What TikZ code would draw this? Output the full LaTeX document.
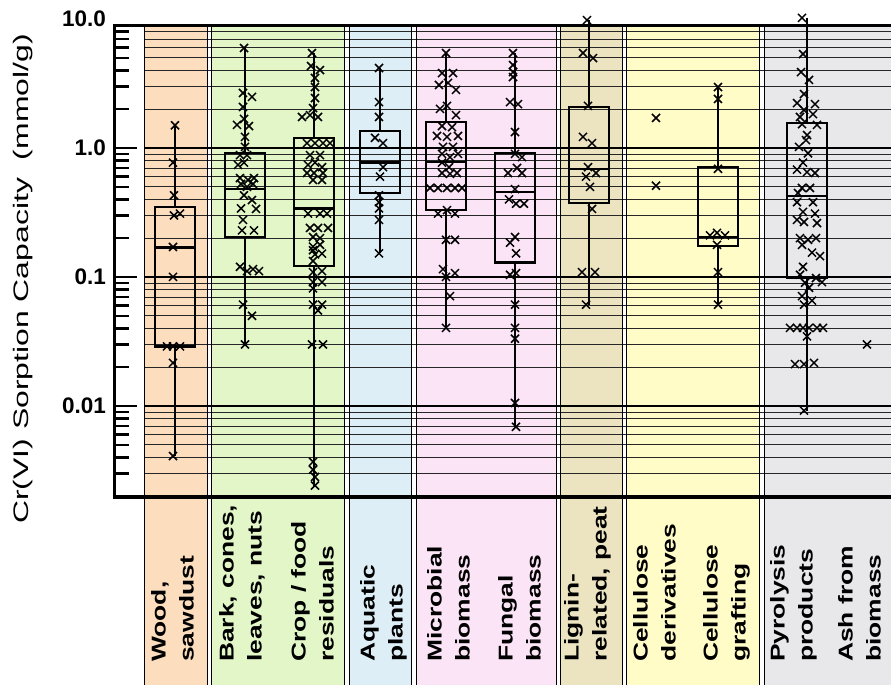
\documentclass[tikz,border=0pt]{standalone}
\usepackage{fontspec}
\setmainfont{Liberation Sans}

\definecolor{woodc}{RGB}{252,222,190}
\definecolor{barkc}{RGB}{226,246,200}
\definecolor{aquac}{RGB}{221,238,246}
\definecolor{micrc}{RGB}{250,228,246}
\definecolor{lignc}{RGB}{236,227,192}
\definecolor{cellc}{RGB}{255,252,200}
\definecolor{pyroc}{RGB}{232,232,235}

% box: x, min, q1, median, q3, max
\newcommand{\bplot}[6]{%
  \draw[bx] (#1,{log10(#6)}) -- (#1,{log10(#5)});
  \draw[bx] (#1,{log10(#3)}) -- (#1,{log10(#2)});
  \draw[bx] (#1-20,{log10(#3)}) rectangle (#1+20,{log10(#5)});
  \draw[bx] (#1-20,{log10(#4)}) -- (#1+20,{log10(#4)});
}
% crosses: x/value
\newcommand{\pts}[1]{%
  \foreach \x/\v in {#1} {\draw[xm] (\x,{log10(\v)}) +(-4pt,-4pt) -- +(4pt,4pt) +(-4pt,4pt) -- +(4pt,-4pt);}
}

\begin{document}
\begin{tikzpicture}
[x=1pt,y=-1pt,
 edge/.style={line width=1pt},
 grid/.style={line width=0.8pt,black!85},
 major/.style={line width=1.6pt},
 frame/.style={line width=3pt},
 tick/.style={line width=2.4pt},
 bx/.style={line width=2.4pt},
 xm/.style={line width=1.5pt},
 tl/.style={anchor=east,inner sep=0pt,font=\fontsize{22.5}{27}\selectfont\bfseries},
 cat/.style={anchor=north west,rotate=90,xscale=1.32,inner sep=0pt,align=left,font=\fontsize{20}{28}\selectfont\bfseries}]
\useasboundingbox (0,0) rectangle (891,685);

% background columns
\foreach \a/\b/\c in {144/207/woodc,211/344/barkc,349/411/aquac,416/556/micrc,560/622/lignc,626/759/cellc,764/891/pyroc}
  \fill[\c] (\a,26) rectangle (\b,685);

\begin{scope}[shift={(0,148)},y=129pt]
  % grid lines
  \begin{scope}
    \clip (144,0.9457) rectangle (891,-2.705);
    \foreach \d in {-3,...,0}
      \foreach \n in {2,...,9}
        \draw[grid] (144,{log10(\n)+\d}) -- (891,{log10(\n)+\d});
    \foreach \d in {-2,...,0}
      \draw[major] (144,\d) -- (891,\d);
  \end{scope}
  % ticks
  \begin{scope}
    \clip (100,0.9457) rectangle (150,-2.705);
    \foreach \d in {-3,...,0}
      \foreach \n in {2,...,9}
        \draw[tick] (114,{log10(\n)+\d}) -- (129,{log10(\n)+\d});
    \foreach \d in {-2,...,0}
      \draw[tick] (114,\d) -- (137,\d);
  \end{scope}
  \node [tl] at (106,1) (t10) {10.0};
  \node [tl] at (106,0) (t1) {1.0};
  \node [tl] at (106,-1) (t01) {0.1};
  \node [tl] at (106,-2) (t001) {0.01};
\end{scope}

% column edges
\foreach \a in {144,207,211,344,349,411,416,556,560,622,626,759,764}
  \draw[edge] (\a,26) -- (\a,685);

% axes
\draw[frame] (891,26) -- (114,26) -- (114,497);
\draw[frame,line width=4pt] (112.5,497) -- (891,497);

\begin{scope}[shift={(0,148)},y=129pt]
  % Wood, sawdust
  \bplot{175}{0.004}{0.029}{0.168}{0.35}{1.5}
  \pts{175/1.5,173/0.77,174/0.43,174/0.30,180/0.31,173/0.17,173/0.1,167/0.029,173/0.029,180/0.029,173/0.0215,173/0.004}
  % Bark, cones, leaves, nuts
  \bplot{245}{0.03}{0.204}{0.48}{0.91}{5.96}
  \pts{244/5.96,243/2.67,252/2.49,243/2.08,237/1.51,244/1.68,249/1.48,245/1.22,245/1.02,240/0.88,247/0.88,238/0.74,244/0.77,240/0.585,248/0.565,254/0.585,241/0.526,247/0.50,253/0.526,244/0.43,252/0.395,241/0.34,256/0.337,243/0.277,242/0.23,254/0.23,240/0.12,247/0.111,253/0.115,259/0.111,243/0.061,252/0.05,245/0.03}
  % Crop / food residuals
  \bplot{314}{0.0024}{0.122}{0.34}{1.2}{5.45}
  \pts{312/5.45,311/4.32,320/4.02,315/3.49,315/2.97,315/2.44,313/2.04,302/1.74,310/1.80,318/1.74,307/1.09,315/1.09,323/1.09,330/1.09,310/0.88,320/0.88,308/0.74,315/0.77,322/0.71,307/0.64,314/0.64,323/0.64,313/0.565,322/0.565,308/0.31,320/0.31,327/0.31,310/0.24,318/0.24,328/0.24,313/0.204,320/0.20,313/0.171,320/0.177,315/0.148,313/0.16,322/0.15,313/0.13,313/0.109,322/0.111,313/0.091,322/0.091,313/0.081,313/0.061,322/0.061,318/0.055,312/0.03,323/0.03,313/0.0037,313/0.0032,315/0.0028,315/0.0024}
  % Aquatic plants
  \bplot{380}{0.151}{0.448}{0.77}{1.35}{4.17}
  \pts{379/4.17,379/2.27,379/1.74,375/1.2,383/1.09,383/0.71,380/0.60,379/0.43,379/0.38,379/0.34,379/0.277,379/0.151}
  % Microbial biomass
  \bplot{446}{0.04}{0.33}{0.78}{1.59}{5.45}
  \pts{446/5.45,442/3.81,453/3.81,439/3.08,448/3.2,456/2.82,440/2.01,447/2.12,456/1.80,442/1.48,452/1.45,437/1.24,447/1.22,458/1.24,443/1.02,453/1.02,442/0.90,450/0.85,458/0.90,442/0.77,449/0.71,442/0.64,450/0.63,457/0.64,430/0.49,438/0.49,447/0.49,455/0.49,462/0.49,438/0.31,447/0.33,455/0.31,446/0.194,455/0.194,443/0.115,455/0.107,446/0.1,450/0.070,446/0.04}
  % Fungal biomass
  \bplot{515}{0.0069}{0.126}{0.456}{0.91}{5.45}
  \pts{513/5.45,513/4.4,513/3.88,513/3.55,510/2.27,518/2.19,515/1.33,515/0.90,522/0.85,508/0.64,517/0.70,522/0.64,515/0.48,509/0.40,516/0.37,524/0.37,515/0.204,510/0.184,516/0.151,510/0.104,516/0.107,515/0.061,515/0.04,515/0.0325,515/0.0105,516/0.0069}
  % Lignin-related, peat
  \bplot{589}{0.061}{0.375}{0.69}{2.08}{9.8}
  \pts{587/9.8,583/5.45,593/4.98,588/2.12,583/1.22,592/1.09,588/0.71,596/0.64,586/0.60,590/0.50,592/0.337,582/0.109,595/0.109,586/0.061}
  % Cellulose derivatives
  \pts{656/1.71,656/0.51}
  % Cellulose grafting
  \bplot{718}{0.061}{0.174}{0.204}{0.71}{2.97}
  \pts{718/2.97,718/2.40,718/0.69,710/0.21,717/0.22,725/0.21,717/0.177,718/0.109,718/0.061}
  % Pyrolysis products
  \bplot{807}{0.0091}{0.098}{0.425}{1.56}{10.2}
  \pts{802/10.2,803/5.35,801/3.88,809/3.37,804/2.62,797/2.23,815/2.19,804/1.97,800/1.74,813/1.83,802/1.53,817/1.51,807/1.26,806/1.15,799/1.02,808/0.91,803/0.77,797/0.68,807/0.65,815/0.64,802/0.49,810/0.49,798/0.448,797/0.38,813/0.38,803/0.32,815/0.31,797/0.277,804/0.267,817/0.262,800/0.20,808/0.194,816/0.20,802/0.177,812/0.153,820/0.143,803/0.12,800/0.104,816/0.098,805/0.090,822/0.091,809/0.082,802/0.070,812/0.064,804/0.061,790/0.04,797/0.04,803/0.04,809/0.04,817/0.04,823/0.04,807/0.034,795/0.021,804/0.021,814/0.0215,804/0.0091}
  % Ash from biomass
  \pts{867/0.03}
\end{scope}

% labels
\node [anchor=base,rotate=90,xscale=1.52,inner sep=0pt,font=\fontsize{21}{25}\selectfont] at (28,279) (ylab) {Cr(VI) Sorption Capacity\ \ (mmol/g)};
\node [cat] at (151,662) (wood) {Wood,\\sawdust};
\node [cat] at (219,662) (bark) {Bark, cones,\\leaves, nuts};
\node [cat] at (291,662) (crop) {Crop / food\\residuals};
\node [cat] at (360,662) (aqua) {Aquatic\\plants};
\node [cat] at (427,662) (micro) {Microbial\\biomass};
\node [cat] at (498,662) (fungi) {Fungal\\biomass};
\node [cat] at (564,662) (lignin) {Lignin-\\related, peat};
\node [cat] at (633,662) (cellder) {Cellulose\\derivatives};
\node [cat] at (703,662) (cellgr) {Cellulose\\grafting};
\node [cat] at (770,662) (pyro) {Pyrolysis\\products};
\node [cat] at (838,662) (ash) {Ash from\\biomass};
\end{tikzpicture}
\end{document}
